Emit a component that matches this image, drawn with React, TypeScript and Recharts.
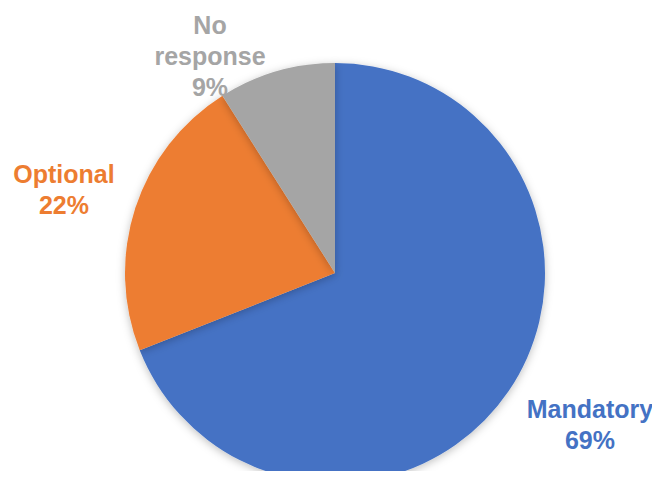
import { PieChart, Pie, Cell } from "recharts";

const categories = ["Mandatory", "Optional", "No response"];
const shares = [69, 22, 9];
const labelLines = [["Mandatory"], ["Optional"], ["No", "response"]];

const COLORS = ["#4472C4", "#ED7D31", "#A5A5A5"];
// label anchor offsets from the pie centre (first baseline)
const LABEL_OFFSETS = [
  [255, 145],
  [-271, -90],
  [-125, -239]
];
const LINE_HEIGHT = 31;

const data = categories.map((name, i) => ({ name, value: shares[i] }));

function renderLabel(props: any) {
  const { cx, cy, index } = props;
  const [dx, dy] = LABEL_OFFSETS[index];
  const lines = [...labelLines[index], `${shares[index]}%`];
  const x = cx + dx;
  return (
    <text
      x={x}
      y={cy + dy}
      textAnchor="middle"
      fill={COLORS[index]}
      fontFamily="'Liberation Sans', Arial, sans-serif"
      fontWeight="bold"
      fontSize={25}
    >
      {lines.map((line, i) => (
        <tspan key={i} x={x} dy={i === 0 ? 0 : LINE_HEIGHT}>
          {line}
        </tspan>
      ))}
    </text>
  );
}

export default function App() {
  return (
    <div style={{ margin: -8, width: 660, height: 479, background: "#fff" }}>
      <PieChart width={660} height={479} margin={{ top: 0, right: 0, bottom: 0, left: 0 }}>
        <defs>
          <filter id="pieShadow" x="-20%" y="-20%" width="140%" height="140%">
            <feDropShadow dx="0" dy="2" stdDeviation="4" floodColor="#000" floodOpacity="0.25" />
          </filter>
        </defs>
        <Pie
          data={data}
          dataKey="value"
          nameKey="name"
          cx={335}
          cy={273}
          outerRadius={210}
          startAngle={90}
          endAngle={-270}
          stroke="none"
          label={renderLabel}
          labelLine={false}
          isAnimationActive={false}
          style={{ filter: "url(#pieShadow)" }}
        >
          {data.map((d, i) => (
            <Cell key={d.name} fill={COLORS[i]} />
          ))}
        </Pie>
      </PieChart>
    </div>
  );
}
